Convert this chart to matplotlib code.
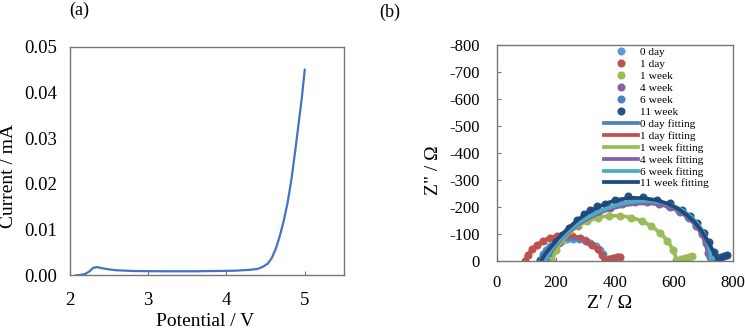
import matplotlib
matplotlib.use("Agg")
import matplotlib.pyplot as plt
from matplotlib.ticker import FormatStrFormatter, MultipleLocator

plt.rcParams['font.family'] = ['Liberation Serif', 'DejaVu Serif']
plt.rcParams['axes.unicode_minus'] = False

# ---- Panel (a): LSV ----
potential = [2.08, 2.15, 2.2, 2.25, 2.3, 2.35, 2.4, 2.5, 2.6, 2.8, 3.0, 3.3, 3.6, 3.9,
             4.1, 4.3, 4.4, 4.47, 4.53, 4.58, 4.63, 4.68, 4.73, 4.78, 4.83, 4.88, 4.92, 4.96, 5.0]
current = [0.0, 0.0001, 0.0003, 0.0008, 0.0016, 0.0018, 0.0016, 0.0013, 0.0011, 0.00095,
           0.0009, 0.00088, 0.00088, 0.00095, 0.001, 0.0012, 0.0014, 0.0019, 0.0026, 0.0038,
           0.0058, 0.0085, 0.0118, 0.0158, 0.021, 0.0275, 0.033, 0.0385, 0.045]

# ---- Panel (b): Nyquist (Z' , Z'') ----
d0_x = [146, 156, 168, 182, 200, 218, 238, 259, 280, 300, 318, 336, 350, 362, 372, 385, 398, 410]
d0_y = [0, -23, -40, -54, -66, -75, -80, -82, -80, -75, -66, -54, -40, -23, -3, -6, -10, -12]
d1_x = [95, 105, 120, 138, 158, 181, 206, 231, 256, 281, 304, 324, 342, 357, 367, 380, 395, 408, 418]
d1_y = [0, -21, -42, -60, -74, -85, -92, -94, -92, -85, -74, -60, -42, -21, -2, -6, -11, -14, -15]
w1_x = [188, 202, 221, 246, 275, 308, 344, 381, 419, 457, 492, 525, 554, 579, 598, 610, 625, 640, 652, 662]
w1_y = [0, -41, -74, -103, -128, -147, -160, -166, -166, -160, -147, -128, -103, -74, -41, -4, -6, -11, -15, -18]
w4_x = [168, 185, 210, 240, 272, 306, 343, 383, 425, 468, 510, 550, 588, 622, 652, 676, 696, 710, 718, 730, 740]
w4_y = [0, -32, -66, -102, -132, -158, -180, -197, -210, -218, -219, -212, -199, -180, -157, -130, -100, -66, -28, -10, -13]
w6_x = [165, 180, 204, 234, 266, 300, 338, 378, 420, 463, 505, 546, 585, 620, 650, 675, 695, 711, 721, 727, 738, 748]
w6_y = [0, -30, -64, -100, -131, -158, -181, -199, -213, -221, -222, -216, -204, -185, -162, -136, -106, -72, -36, -8, -10, -14]
w11_x = [148, 162, 178, 200, 222, 246, 271, 296, 316, 341, 367, 400, 447, 498, 543, 589, 628, 656, 679,
         702, 719, 736, 750, 760, 772, 782]
w11_y = [-2, -22, -45, -72, -96, -122, -150, -172, -187, -202, -212, -226, -240, -238, -226, -213, -189,
         -164, -140, -102, -71, -34, -10, -12, -16, -20]

f0_x = [146, 152, 162, 175, 191, 209, 229, 250, 271, 291, 310, 327, 342, 355, 365, 372, 385, 398, 410]
f0_y = [0, -15, -33, -49, -62, -73, -79, -82, -81, -76, -68, -57, -44, -29, -14, -2, -6, -10, -12]
f1_x = [95, 101, 112, 128, 147, 169, 193, 218, 244, 269, 293, 315, 334, 350, 362, 368, 380, 395, 408, 418]
f1_y = [0, -14, -32, -51, -67, -80, -89, -93, -93, -89, -80, -67, -51, -32, -14, -2, -6, -11, -14, -15]
fw1_x = [188, 196, 211, 233, 260, 291, 326, 362, 400, 438, 475, 509, 540, 567, 589, 604, 612, 625, 640, 652, 662]
fw1_y = [0, -24, -58, -89, -116, -138, -154, -164, -167, -164, -154, -138, -116, -89, -58, -24, -3, -6, -11, -15, -18]
fw4_x = [168, 178, 197, 222, 251, 283, 318, 355, 395, 437, 478, 518, 556, 591, 622, 649, 672, 691, 705, 714, 718, 728, 738]
fw4_y = [0, -22, -52, -84, -113, -139, -161, -180, -195, -206, -212, -213, -208, -197, -181, -160, -135, -106, -74, -40, -10, -10, -13]
fw6_x = [165, 176, 195, 221, 251, 284, 320, 358, 399, 441, 483, 524, 563, 599, 631, 659, 682, 701, 715, 723, 726, 736, 746]
fw6_y = [0, -24, -55, -88, -118, -145, -168, -188, -204, -215, -221, -221, -215, -204, -187, -164, -137, -106, -72, -36, -8, -10, -14]
fw11_x = [150, 165, 185, 210, 240, 271, 305, 340, 380, 420, 460, 500, 540, 580, 615, 645, 670, 692, 712, 730, 745, 752, 762, 772, 782]
fw11_y = [0, -25, -52, -85, -118, -148, -176, -198, -216, -228, -233, -232, -225, -212, -193, -170, -145, -115, -80, -45, -15, -3, -9, -15, -20]

labels = ['0 day', '1 day', '1 week', '4 week', '6 week', '11 week']
marker_colors = ['#5B9BD5', '#C0504D', '#9BBB59', '#8064A2', '#4F81BD', '#2A5185']
line_colors = ['#4F81BD', '#C0504D', '#9BBB59', '#8064A2', '#4BACC6', '#1F497D']

fig = plt.figure(figsize=(7.45, 3.30), dpi=100)
W, H = 745.0, 330.0

def add_ax(l, t, r, b):
    return fig.add_axes([l / W, 1 - b / H, (r - l) / W, (b - t) / H])

spine_col = '#767676'

# Panel (a)
axa = add_ax(69.5, 46.7, 344, 275.3)
axa.plot(potential, current, color='#4472C4', lw=1.6, solid_capstyle='round')
axa.set_xlim(2, 5.5)
axa.set_ylim(0, 0.05)
axa.xaxis.set_major_locator(MultipleLocator(1))
axa.yaxis.set_major_locator(MultipleLocator(0.01))
axa.yaxis.set_major_formatter(FormatStrFormatter('%.2f'))
axa.xaxis.set_major_formatter(FormatStrFormatter('%d'))
axa.tick_params(axis='x', direction='in', length=3, width=0.8, color=spine_col, labelsize=13.5, pad=12)
axa.tick_params(axis='y', direction='in', length=0, width=0.8, color=spine_col, labelsize=13.5, pad=9)
for s in axa.spines.values():
    s.set_color(spine_col)
    s.set_linewidth(1.0)

# Panel (b)
axb = add_ax(496.7, 45, 732.5, 260.7)
handles_m = []
for x, y, c, lab in zip([d0_x, d1_x, w1_x, w4_x, w6_x, w11_x],
                        [d0_y, d1_y, w1_y, w4_y, w6_y, w11_y], marker_colors, labels):
    h, = axb.plot(x, y, linestyle='none', marker='o', ms=4.8, color=c, mec=c, label=lab)
    handles_m.append(h)
handles_l = []
for x, y, c, lab in zip([f0_x, f1_x, fw1_x, fw4_x, fw6_x, fw11_x],
                        [f0_y, f1_y, fw1_y, fw4_y, fw6_y, fw11_y], line_colors, labels):
    h, = axb.plot(x, y, '-', lw=2.7, color=c, label=lab + ' fitting', solid_joinstyle='round')
    handles_l.append(h)
axb.set_xlim(0, 800)
axb.set_ylim(0, -800)
axb.xaxis.set_major_locator(MultipleLocator(200))
axb.yaxis.set_major_locator(MultipleLocator(100))
axb.tick_params(axis='x', direction='in', length=3, width=0.8, color=spine_col, labelsize=12, pad=10)
axb.tick_params(axis='y', direction='in', length=3, width=0.8, color=spine_col, labelsize=12, pad=12)
for s in axb.spines.values():
    s.set_color(spine_col)
    s.set_linewidth(1.0)

leg = fig.legend(handles=handles_m + handles_l, loc='upper left',
                 bbox_to_anchor=(604 / W, 1 - 47.5 / H), bbox_transform=fig.transFigure,
                 frameon=False, fontsize=8.2, handlelength=2.95, handletextpad=0.2,
                 labelspacing=0.17, borderpad=0, borderaxespad=0, numpoints=1)

# Text labels
fig.text(79 / W, 1 - 10 / H, '(a)', ha='center', va='center', fontsize=13)
fig.text(390 / W, 1 - 12.5 / H, '(b)', ha='center', va='center', fontsize=13)
fig.text(9 / W, 1 - 176 / H, 'Current / mA', rotation=90, ha='center', va='center', fontsize=14)
fig.text(205 / W, 1 - 326 / H, 'Potential / V', ha='center', va='baseline', fontsize=14)
fig.text(434 / W, 1 - 170 / H, 'Z" / Ω', rotation=90, ha='center', va='center', fontsize=14)
fig.text(610 / W, 1 - 307.5 / H, "Z' / Ω", ha='center', va='baseline', fontsize=14)

fig.savefig('out.png', dpi=100)
